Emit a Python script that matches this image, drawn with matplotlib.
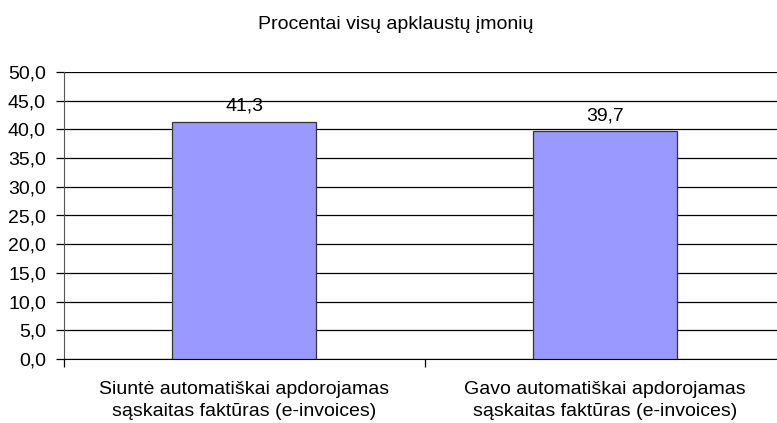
import matplotlib
matplotlib.use("Agg")
import matplotlib.pyplot as plt
import numpy as np

plt.rcParams['font.family'] = ['Liberation Sans', 'DejaVu Sans']

title = "Procentai visų apklaustų įmonių"
categories = [["Siuntė automatiškai apdorojamas", "sąskaitas faktūras (e-invoices)"],
              ["Gavo automatiškai apdorojamas", "sąskaitas faktūras (e-invoices)"]]
values = [41.3, 39.7]
yticks = [0, 5, 10, 15, 20, 25, 30, 35, 40, 45, 50]

FS = 14
W, H = 777, 423
fig = plt.figure(figsize=(W/100, H/100), dpi=100)
left, right, top, bottom = 64, 785, 72, 359
ax = fig.add_axes([left/W, 1 - bottom/H, (right-left)/W, (bottom-top)/H])

x = np.arange(len(categories))
ax.bar(x, values, width=0.4, color='#9999FF', edgecolor='#333333', linewidth=0.9, zorder=3)
px_per_unit = (bottom - top) / 50.0
for xi, v in zip(x, values):
    ax.text(xi, v + 11 / px_per_unit, f"{v:.1f}".replace('.', ','), ha='center', va='baseline',
            fontsize=FS, color='black', zorder=4)

ax.set_xlim(-0.5, len(categories) - 0.5)
ax.set_ylim(0, 50)
ax.set_yticks(yticks)
ax.set_yticklabels([f"{t:.1f}".replace('.', ',') for t in yticks], fontsize=FS)
ax.yaxis.grid(True, color='black', linewidth=0.9, zorder=0)
ax.set_axisbelow(True)

ax.set_xticks(np.arange(-0.5, len(categories), 1.0))
ax.set_xticklabels([])
ax.tick_params(axis='x', length=6, width=0.9, color='black')
ax.tick_params(axis='y', length=6, width=0.9, color='black', pad=7)
for i, lines in enumerate(categories):
    for j, line in enumerate(lines):
        ax.text(i, -(394 + 22 * j - bottom) / (bottom - top), line,
                transform=ax.get_xaxis_transform(), ha='center', va='baseline', fontsize=FS)

for s in ['top', 'right']:
    ax.spines[s].set_visible(False)
ax.spines['left'].set_color('#555555')
ax.spines['bottom'].set_color('black')

fig.text(396/W, 1 - 29/H, title, ha='center', va='baseline', fontsize=FS)

fig.savefig('out.png', dpi=100)
